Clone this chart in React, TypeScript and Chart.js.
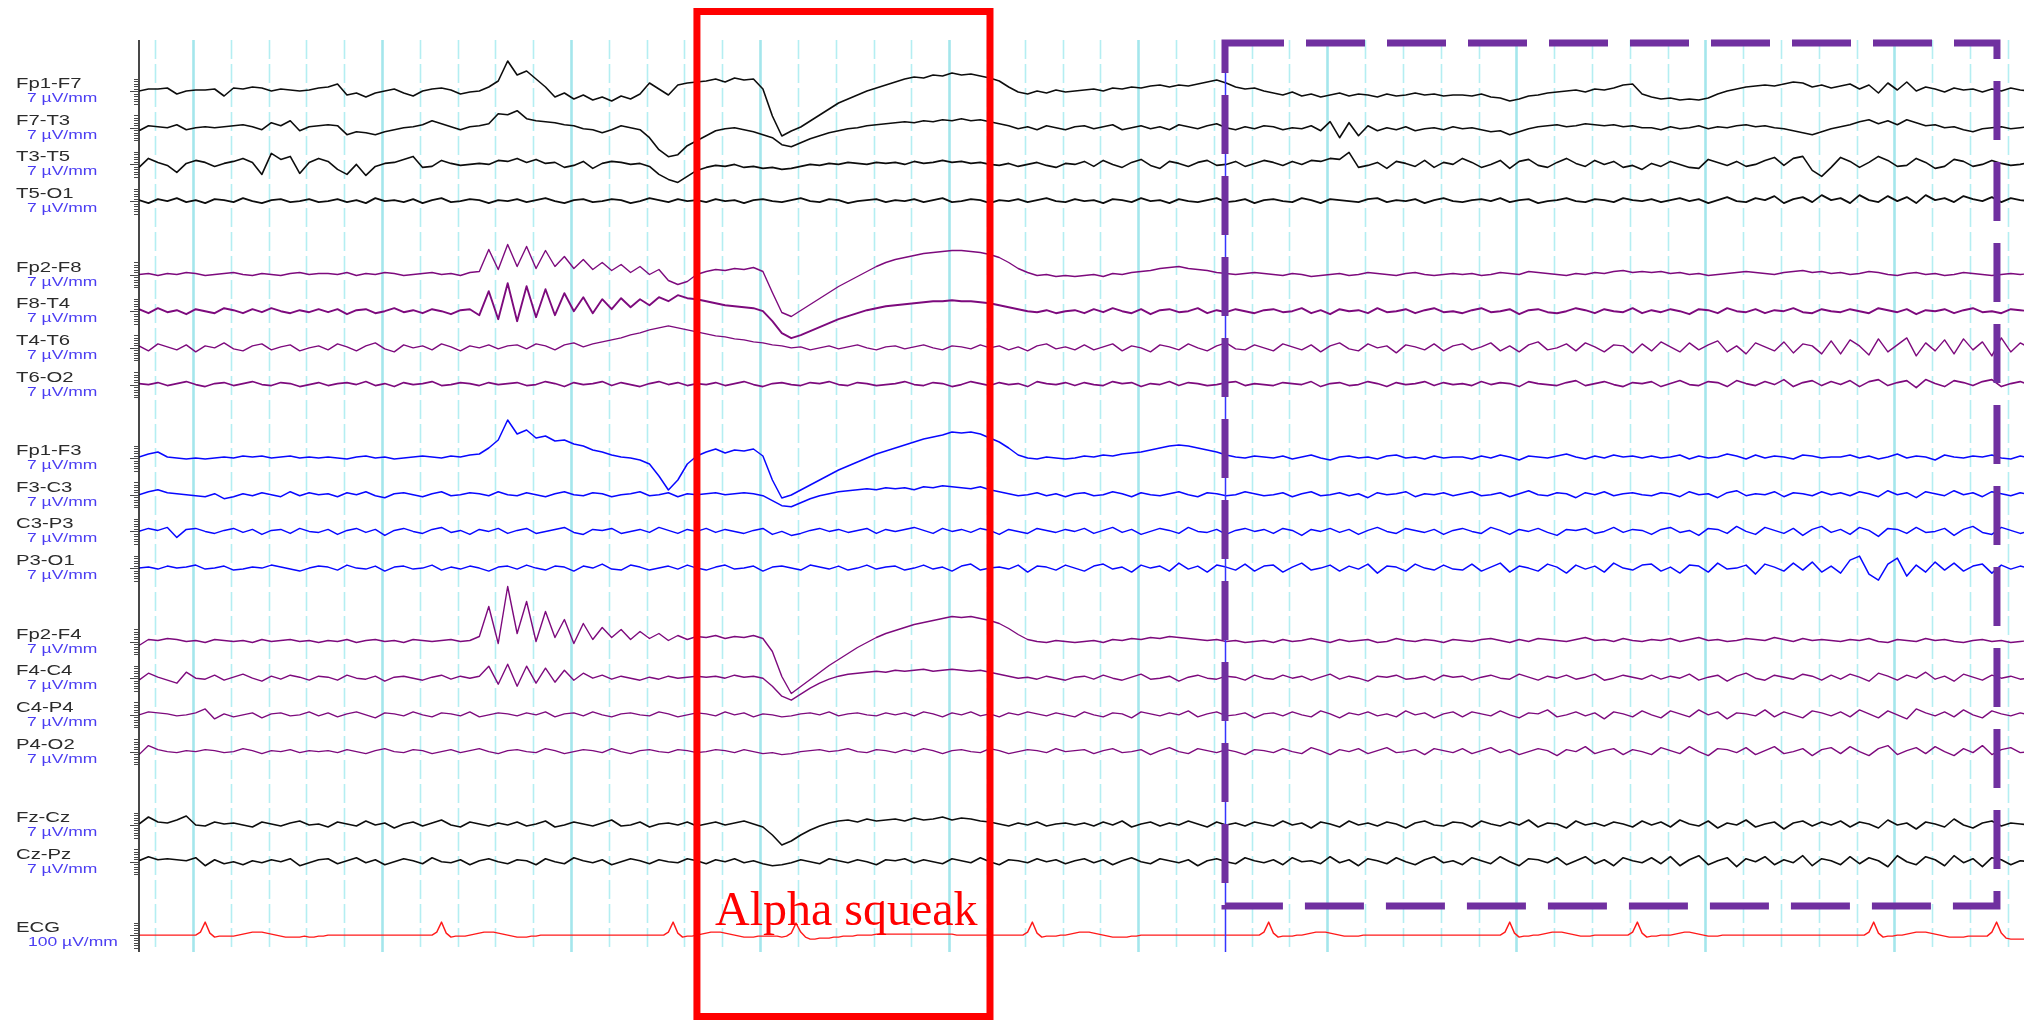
import React, { useEffect, useRef } from "react";
import { Chart, registerables } from "chart.js";

Chart.register(...registerables);

const WIDTH = 2031;
const HEIGHT = 1020;

// Time base of the montage (seconds) and sample spacing of the traces
const T_START = 0.715;
const T_END = 10.685;
const EEG_DT = 0.05;
const ECG_DT = 0.025;
const PAGE_JOIN = 6.46; // where the two pages meet

// Vertical layout: one slot per channel, empty slots between groups
const SLOT = 36.7;

const channelNames = [
  "Fp1-F7", "F7-T3", "T3-T5", "T5-O1",
  "Fp2-F8", "F8-T4", "T4-T6", "T6-O2",
  "Fp1-F3", "F3-C3", "C3-P3", "P3-O1",
  "Fp2-F4", "F4-C4", "C4-P4", "P4-O2",
  "Fz-Cz", "Cz-Pz", "ECG",
];
const sensitivities = [
  "7 µV/mm", "7 µV/mm", "7 µV/mm", "7 µV/mm",
  "7 µV/mm", "7 µV/mm", "7 µV/mm", "7 µV/mm",
  "7 µV/mm", "7 µV/mm", "7 µV/mm", "7 µV/mm",
  "7 µV/mm", "7 µV/mm", "7 µV/mm", "7 µV/mm",
  "7 µV/mm", "7 µV/mm", "100 µV/mm",
];
const channelSlots = [0, 1, 2, 3, 5, 6, 7, 8, 10, 11, 12, 13, 15, 16, 17, 18, 20, 21, 23];

// Trace deflections (display px, upward positive), one row per second
const fp1F7 = [
  0, 2, 2, 3, -3, 0, 1, 1, 2, -5, 3, 2, 4, 3, 0, 2, 1, 0, 1, 3,
  4, 7, -4, -2, -6, -2, 0, 2, -2, -5, 0, 2, 3, 1, -3, -1, 0, 4, 10, 30,
  16, 20, 12, 4, -6, -2, -8, -4, -9, -6, -10, -5, -8, -3, 8, 2, -4, 6, 8, 9,
  10, 12, 9, 13, 11, 12, 2, -25, -45, -40, -36, -30, -24, -18, -12, -8, -4, 0, 3, 6,
  9, 12, 14, 13, 16, 15, 18, 16, 17, 15, 13, 10, 4, -1, -3, 0, -2, 1, -1, 0,
  1, 2, 0, 3, 2, 4, 3, 5, 6, 4, 6, 5, 7, 9, 11, 8, 4, 2, 3, 0,
  -2, -4, -1, -5, -3, -6, -4, -2, -5, -3, -4, -6, -3, -5, -4, -2, -4, -3, -5, -4,
  -4, -5, -3, -6, -7, -10, -8, -5, -4, -2, -1, 0, 1, -1, 2, 1, 3, 6, 7, -3,
  -6, -8, -7, -9, -8, -9, -7, -3, 0, 2, 4, 5, 6, 5, 7, 9, 8, 4, 6, 3,
  5, 7, 2, 6, -2, 8, 1, 9, 0, 4, 2, -1, 3, 1, 2, -1, 2, 0, 3, 1, 0,
];
const f7T3 = [
  -3, 2, 1, 0, 3, -2, 0, 1, 0, 1, 2, 3, 1, -2, 5, 2, 7, -3, 1, 2,
  3, 2, -7, -4, -5, -7, -4, -2, 0, 1, 3, 7, 4, 1, -2, 1, 2, 4, 14, 13,
  17, 9, 7, 6, 5, 3, 2, -1, -2, -5, -2, 2, 0, -2, -10, -22, -29, -27, -18, -13,
  -8, -3, -1, 0, -2, -4, -7, -10, -17, -19, -15, -11, -8, -5, -3, -1, 0, 2, 3, 4,
  5, 6, 5, 7, 6, 8, 7, 9, 7, 8, 6, 4, 2, -1, 1, -2, 2, 0, -2, 1,
  2, -1, 1, 3, -2, 0, 2, -1, 1, -2, 3, 1, -1, 2, 4, 0, -2, 1, -1, 2,
  1, -2, 0, -1, 2, -3, 6, -10, 5, -8, 2, -3, 0, -2, 1, -3, -1, 0, -2, 1,
  -1, 0, -2, -4, -3, -7, -4, -1, 1, 2, 3, 1, 2, 4, 3, 2, 3, 1, 2, 0,
  0, -2, 1, -1, 0, 2, -1, 1, 0, 2, 3, 1, 2, 0, -1, -3, -5, -7, -4, -1,
  1, 3, 6, 8, 4, 7, 3, 8, 5, 2, 3, 0, 1, -2, -4, -1, 0, 1, -1, 0, 1,
];
const t3T5 = [
  -3, 6, 2, -1, -8, 1, 4, 2, -2, 1, 3, 6, 2, -10, 11, 5, 8, -9, 2, 6,
  3, -5, -10, 0, -11, -2, 1, 2, 5, 8, -3, -2, 4, 1, -1, 0, 1, 0, 4, 3,
  6, 2, 5, 1, 2, -3, -1, 3, -4, 1, 3, 2, 0, 1, -2, -10, -15, -18, -12, -6,
  -3, -1, -2, 0, -3, -2, -4, -3, -5, -4, -2, 0, -1, 1, 0, 2, 1, 0, 2, 1,
  2, 0, 3, 1, 2, 4, 2, 3, 1, 2, 0, -1, 1, -2, 0, 2, -1, -3, 1, 0,
  3, -2, 4, 0, -3, 2, 5, -1, -4, 3, 1, -2, 2, 4, -1, 0, 3, -2, 1, 4,
  2, -1, 3, 0, 4, 3, 6, 5, 12, -3, -1, 2, -4, 3, 1, -2, 4, -3, 2, 0,
  6, 2, -3, 0, 4, -4, 3, 5, -1, -3, 2, 6, 1, -2, 4, 0, 3, -3, -1, -5,
  1, -2, 3, 0, -3, -4, 5, 2, -1, 3, -2, 0, 4, 7, -1, 6, 8, -6, -12, -3,
  7, 3, -3, 2, 8, 4, -2, -1, 6, 2, -4, -2, 5, 3, -2, 0, 4, 1, -1, 0, 2,
];
const t5O1 = [
  1, -2, 2, 0, 3, -1, 1, -2, 2, 1, -1, 3, 0, -2, 1, 2, -1, 0, 2, -1,
  0, 2, -1, 1, -2, 3, 0, 1, -1, 2, -2, 1, 3, -1, 0, 2, 1, -2, 1, 0,
  2, -1, 1, 3, 0, -2, 1, 2, -1, 0, 2, 1, -2, 0, 3, 1, -1, 2, 0, 1,
  -1, 2, 0, 1, -2, 1, 2, 0, -1, 1, 3, 0, -1, 2, 1, -2, 0, 1, 2, -1,
  1, 0, 2, -1, 1, 3, -1, 0, 2, 1, -2, 1, 0, 2, -1, 1, 3, 0, -1, 2,
  0, 1, -2, 2, 1, -1, 3, 0, 1, -2, 2, 0, -1, 1, 3, -1, 0, 2, -2, 1,
  2, 0, -1, 3, 1, -2, 2, 1, 0, -1, 2, 3, -1, 1, 0, 2, -2, 1, 3, 0,
  -1, 1, 2, 0, 3, -1, 1, 2, -2, 0, 1, 3, 0, -1, 2, 1, -1, 3, 1, 0,
  2, -1, 1, 3, 0, 2, -2, 1, 4, 0, -1, 3, 1, 5, -2, 2, 4, -1, 6, 1,
  3, -2, 6, 1, -1, 5, 0, 4, -2, 6, 1, 3, -1, 5, 2, 0, 4, -1, 3, 1, 0,
];
const fp2F8 = [
  0, 1, -1, 1, 0, 2, 1, -1, 0, 1, 2, 0, -1, 1, 0, -1, 1, 2, 0, 1,
  1, 0, 2, -1, 1, 0, 2, 1, -1, 0, 1, 2, 0, 1, -1, 2, 3, 25, 5, 30,
  8, 28, 6, 24, 8, 18, 6, 15, 5, 12, 4, 10, 2, 8, 0, 5, -6, -10, -7, 0,
  3, 5, 4, 6, 5, 7, 3, -18, -38, -42, -36, -30, -24, -18, -12, -7, -2, 3, 8, 12,
  15, 17, 19, 21, 22, 23, 24, 24, 23, 22, 20, 17, 12, 6, 2, -1, 0, -2, -1, -2,
  -1, 0, -2, 1, 0, 2, 3, 4, 6, 7, 8, 6, 5, 4, 2, 1, 0, 1, 2, 1,
  0, -1, 1, 0, -2, -1, 0, 1, -1, 0, 2, 1, 0, -1, 1, 2, 0, -1, 0, 1,
  0, 1, -1, 0, 2, 1, 0, 3, 2, 1, 0, -1, 1, 0, 2, 1, 3, 4, 2, 3,
  2, 3, 1, 2, 0, 1, -1, 0, 1, 2, 3, 2, 1, 0, 2, 3, 4, 2, 3, 1,
  2, 0, 1, 3, 2, 0, -1, 1, 2, 0, 1, -1, 0, 2, 1, 0, -1, 0, 1, 0, 1,
];
const f8T4 = [
  2, -2, 3, -1, 1, -3, 2, 0, -2, 3, 1, -2, 2, -1, 3, 0, -2, 1, -1, 2,
  -1, 2, -3, 1, 2, -2, 0, 3, -1, 1, -2, 2, 0, -3, 1, 2, -4, 20, -8, 28,
  -10, 25, -6, 22, -4, 18, 0, 14, -2, 12, 2, 13, 4, 12, 6, 14, 10, 16, 13, 12,
  10, 8, 6, 5, 4, 3, 0, -10, -22, -27, -24, -20, -16, -12, -8, -5, -2, 1, 3, 5,
  6, 7, 8, 9, 10, 10, 11, 10, 10, 9, 8, 6, 4, 2, 0, -1, 1, -2, 0, 1,
  -2, 2, -1, 3, 0, -2, 2, -3, 1, 2, -1, 0, 3, -2, 1, -1, 2, 0, -2, 1,
  2, -1, 0, 3, -2, 1, -3, 2, 0, 1, -2, 3, -1, 0, 2, -2, 1, 3, -1, 0,
  -2, 1, 3, -1, 0, 2, -3, 1, 2, -1, -2, 0, 3, 1, -2, 2, 0, -1, 3, -2,
  1, -1, 2, 0, -3, 2, 1, -2, 3, 0, -1, 2, -2, 1, 0, 3, -1, -2, 2, 0,
  -1, 2, 0, -2, 3, 1, -1, 2, -3, 1, 0, 2, -2, 1, 3, -1, 0, -2, 2, 1, 0,
];
const t4T6 = [
  2, -3, 4, 1, -2, 3, -4, 2, 0, 5, -1, -3, 2, 4, -2, 1, 3, -3, 0, 2,
  -2, 4, 1, -3, 2, 5, -1, -4, 3, 0, 2, -2, 4, 1, -3, 2, 0, 3, -1, 2,
  3, -1, 4, 2, -2, 3, 5, 1, 4, 6, 8, 10, 13, 15, 18, 20, 22, 20, 18, 16,
  14, 12, 11, 9, 8, 6, 5, 3, 2, 0, 1, -2, 0, 2, -1, 1, 3, 0, -2, 1,
  2, -1, 1, 3, 0, -2, 2, 1, -1, 3, 0, 2, -2, 1, -3, 2, 4, -1, 1, -2,
  3, -2, 1, 4, -3, 2, 0, -4, 3, 1, -2, 4, 0, -3, 2, 5, -1, -2, 3, 0,
  -3, 4, 1, -2, 3, -4, 2, 5, -1, -3, 4, 0, 2, -5, 3, 1, -2, 4, -3, 2,
  4, -2, 1, 5, -3, 2, -4, 3, 6, -2, 0, 4, -3, 5, 1, -4, 3, 2, -5, 4,
  -3, 6, 1, -4, 5, -2, 3, 7, -4, 2, -6, 5, 1, -3, 6, -5, 4, 2, -6, 7,
  -6, 8, 2, -7, 9, -4, 3, 10, -8, 5, -3, 8, -6, 9, -2, 6, -8, 10, -4, 5, 0,
];
const t6O2 = [
  1, 0, 2, -1, 1, 3, 0, -2, 1, 2, -1, 1, 3, 0, -1, 2, 1, -2, 0, 2,
  -1, 1, 2, 0, 3, -1, 1, -2, 2, 0, 1, 3, -1, 0, 2, 1, -1, 2, 0, 1,
  2, -1, 0, 3, 1, -2, 2, 0, 1, 3, -1, 2, 0, -2, 1, 3, 0, 2, -1, 1,
  0, 2, -1, 1, 3, 0, -2, 1, 2, 0, -1, 2, 1, 3, 0, -1, 2, 1, -1, 0,
  1, 3, 0, -1, 2, 1, -2, 0, 3, 1, -1, 2, 0, 1, -2, 3, 1, 0, 2, -1,
  2, 0, -1, 3, 1, 2, -2, 1, 0, 3, -1, 2, 1, -1, 0, 2, 3, -1, 1, 0,
  -1, 2, 1, 0, 3, -2, 1, 2, -1, 0, 3, 1, -2, 2, 0, 1, 3, -1, 2, 0,
  1, -1, 3, 0, 2, 1, -2, 3, 1, 0, -1, 2, 4, -1, 1, 3, 0, -2, 2, 1,
  3, -2, 1, 4, 0, -1, 3, 2, -2, 4, 1, -1, 3, 0, 5, -2, 2, 4, -1, 3,
  0, 4, -2, 3, 5, -1, 2, 4, -3, 5, 1, -2, 4, 2, -1, 3, 5, -2, 1, 3, 0,
];
const fp1F3 = [
  1, 4, 6, 1, 0, -1, 0, -1, 0, 1, 0, 2, 1, 2, 0, 1, 2, 0, 1, 0,
  1, 0, -1, 1, 2, 0, 1, -1, 0, 1, 2, 1, 0, 2, 1, 3, 4, 10, 18, 38,
  24, 28, 20, 22, 17, 18, 14, 12, 8, 6, 3, 1, 0, -2, -6, -18, -32, -22, -6, 2,
  6, 9, 5, 8, 7, 9, 2, -22, -40, -37, -32, -27, -22, -17, -12, -8, -4, 0, 4, 7,
  10, 13, 16, 19, 21, 23, 26, 25, 26, 24, 20, 16, 10, 3, 0, -1, 1, 0, -1, 0,
  2, 1, 3, 2, 4, 5, 6, 8, 10, 12, 13, 12, 10, 8, 6, 3, 1, 0, 2, 1,
  0, 2, -1, 1, 3, 0, -2, 1, 2, 0, 1, -1, 2, 3, 0, 1, -1, 2, 0, 1,
  1, -1, 2, 0, 3, 1, -2, 2, 1, 0, 2, 4, 1, -1, 2, 0, 3, 1, 2, 0,
  2, 0, 1, 3, -1, 2, 0, 1, 4, 2, -1, 3, 0, 2, 1, -1, 3, 2, 0, 1,
  1, 3, 0, 2, -1, 1, 4, 0, 2, 1, -2, 3, 1, 0, 2, 1, 3, 0, -1, 2, 0,
];
const f3C3 = [
  0, 3, 5, 2, 1, 0, -1, -2, 1, -4, -2, 1, -1, 2, 0, -2, 3, -1, 2, 0,
  1, -2, 2, 0, 3, -1, -3, 1, 2, 0, -2, 1, 3, -1, 0, 2, 1, -1, 3, 0,
  -1, 2, 0, -2, 1, 3, 0, -1, 2, 1, -2, 0, 1, 3, -1, 0, 2, -2, 1, 0,
  1, 2, 0, 1, 2, 1, -1, -6, -11, -12, -8, -4, -1, 1, 3, 4, 5, 6, 5, 7,
  6, 7, 5, 8, 7, 9, 8, 7, 6, 8, 5, 3, 1, -1, 0, 2, -1, 1, -2, 1,
  2, -1, 0, 3, 1, -2, 2, 0, -1, 1, 3, 0, -2, 2, 1, -1, 0, 3, 1, -1,
  0, 2, -2, 1, 3, -1, 0, 2, -1, 1, -3, 2, 0, 1, 3, -2, 1, 0, 2, -1,
  1, 3, -1, 0, 2, -2, 1, 4, 0, -1, 2, 1, -3, 2, 0, 3, -1, 1, 2, 0,
  -1, 2, 1, -2, 3, 0, 1, -3, 2, 4, -1, 1, 0, 3, -2, 2, 1, -1, 3, 0,
  2, -1, 3, 1, -2, 4, 0, 2, -3, 3, 1, -1, 4, 0, 2, -2, 3, 1, -1, 2, 0,
];
const c3P3 = [
  0, 3, 1, 4, -6, 2, 3, 0, -2, 1, 3, -1, 2, -3, 1, 2, -2, 3, 0, -1,
  2, -3, 1, 3, -1, 2, -4, 1, 3, 0, -2, 2, 4, -1, 1, -3, 2, 0, 3, -2,
  1, 3, -2, 0, 2, 4, -1, -3, 2, 1, 3, -2, 0, 2, -1, 4, 1, -2, 2, 0,
  3, -1, 2, 0, -2, 1, 3, -3, 0, -4, -2, 1, 3, 0, 2, -1, 1, 3, -2, 2,
  0, 2, 4, 1, -2, 3, 0, 2, -1, 3, 1, -3, 2, 0, -2, 3, 1, -1, 2, 0,
  3, -2, 1, 4, -1, 2, -3, 0, 3, 1, -2, 4, 0, -1, 2, -3, 1, 3, 0, 2,
  -2, 3, 1, -4, 2, 0, 3, -1, 2, -3, 1, 4, 0, -2, 3, 1, -1, 2, -3, 1,
  3, 0, -2, 4, 1, -3, 2, 0, 3, -1, -4, 2, 1, 3, -2, 0, 4, -1, 2, 1,
  -3, 2, 4, -1, 1, -4, 3, 2, -2, 5, 0, -3, 4, 1, -2, 3, -4, 2, 5, -1,
  2, -3, 4, 1, -5, 3, 2, -2, 4, -1, 0, 3, -4, 2, 5, -1, -3, 4, 1, -2, 0,
];
const p3O1 = [
  0, 1, -1, 2, 0, 1, 3, -1, 0, 2, -2, -1, 1, 0, 3, 1, -1, -3, 0, 2,
  1, -2, 3, 0, -1, 2, -3, 1, 2, -1, 0, 3, -2, 1, -1, 2, 0, -3, 1, 2,
  -1, 3, 0, -2, 2, 1, -3, 2, 0, 4, -1, -2, 3, 1, -2, 0, 2, -1, 3, 0,
  -2, 1, 3, -1, 0, 2, -3, 1, 2, 0, -2, 3, 1, -1, 2, -2, 0, 3, -1, 1,
  2, -2, 0, 3, -1, 1, -3, 2, 4, -2, 0, 1, -1, 3, -4, 2, 1, -2, 3, 0,
  -3, 2, 4, -1, 1, -4, 3, 0, 2, -3, 5, -1, 2, -4, 3, 1, -2, 4, -3, 2,
  3, -4, 1, 5, -2, 0, 3, -3, 2, -1, 4, -5, 2, 1, -3, 4, 0, -2, 3, -1,
  -2, 4, -3, 1, 5, -4, 2, 0, -3, 4, 1, -5, 3, -1, 2, -4, 5, 0, -2, 3,
  4, -3, 1, -5, 3, 2, -4, 5, -1, 0, 3, -6, 4, 1, -3, 5, -2, 6, -4, 2,
  -5, 8, 12, -6, -12, 4, 10, -8, 3, -4, 6, -2, 5, -3, 2, 4, -5, 3, -1, 2, 0,
];
const fp2F4 = [
  -4, 2, 1, 3, 2, 0, 1, -1, 2, 1, 0, 1, -1, 2, 0, 1, 2, 0, 1, -1,
  1, 0, 2, -1, 1, 2, 0, 1, -1, 2, 1, 0, 1, 2, 0, 1, 5, 35, -2, 55,
  8, 40, 0, 30, 4, 22, -2, 18, 2, 14, 4, 12, 2, 10, 3, 8, 1, 6, 2, 5,
  4, 6, 3, 5, 4, 6, 3, -10, -35, -52, -45, -38, -31, -24, -18, -12, -6, -1, 4, 8,
  11, 14, 17, 19, 21, 23, 25, 24, 25, 23, 21, 18, 13, 7, 2, 0, -1, 1, 0, -1,
  0, 1, -1, 2, 1, 3, 2, 4, 3, 5, 4, 3, 2, 1, 2, 0, 1, -1, 0, 1,
  -1, 2, 0, 1, 3, 1, -1, 2, 0, 1, 2, -1, 0, 3, 1, 0, 2, 1, -1, 2,
  1, 0, 2, 3, 1, -1, 2, 0, 3, 2, 1, 0, 2, 4, 1, 2, 0, 3, 1, 0,
  2, 1, 3, 0, 2, 4, 1, 2, 0, 1, 3, 2, 1, 4, 2, 0, 3, 1, 2, 1,
  0, 2, 1, 3, 0, -1, 2, 1, 0, 3, 1, 2, 0, -1, 1, 2, 0, 1, -1, 0, 1,
];
const f4C4 = [
  -2, 5, 1, -2, -5, 6, 0, -1, 3, -2, 1, 4, 0, -3, 2, -1, 3, 1, -2, 2,
  1, -2, 3, 0, -1, 2, -3, 1, 2, 0, -2, 1, 3, -1, 2, 0, 2, 12, -6, 14,
  -8, 12, -5, 10, -4, 8, -2, 5, 0, 3, -1, 2, 0, -2, 1, -1, 2, 0, 1, 2,
  1, 2, 0, 3, 1, 2, 0, -8, -18, -22, -16, -10, -5, -1, 2, 4, 5, 6, 7, 6,
  8, 7, 8, 9, 7, 8, 9, 8, 7, 8, 6, 4, 2, 0, 1, -1, 2, 0, -2, 1,
  2, -1, 3, 0, -2, 1, 4, -1, 0, 2, -3, 1, 3, 0, -1, 2, 1, -2, 3, 0,
  -1, 3, 0, 2, -2, 1, 4, -1, 2, 0, -3, 2, 1, 3, -1, 0, 2, -2, 3, 1,
  2, -2, 1, 3, 0, -1, 4, 1, -2, 2, 0, 3, -1, 1, 4, -2, 0, 3, 1, -1,
  3, -1, 2, 0, 4, -2, 1, 3, -3, 2, 5, 0, -2, 3, 1, -1, 4, 2, -2, 3,
  -1, 4, 1, -3, 5, 2, -2, 3, 0, 6, -1, 2, -3, 4, 1, -2, 3, 0, 2, -1, 0,
];
const c4P4 = [
  0, 3, 2, 1, -1, 0, 2, 6, -4, 1, -2, 0, 2, -3, 1, 2, -1, 0, 3, -1,
  2, -2, 1, 3, 0, -3, 2, 1, -1, 3, 0, -2, 2, 1, -1, 3, -2, 0, 2, 1,
  -1, 2, 0, 3, -2, 1, 2, -1, 3, 0, -2, 1, 2, 0, -1, 3, 1, -2, 0, 2,
  1, -1, 3, 0, 2, -2, 1, 0, -2, -1, 1, 2, 0, 3, -1, 1, 2, 0, -1, 2,
  0, 2, -1, 3, 1, -2, 2, 0, 3, -1, 1, -2, 2, 0, 3, 1, -1, 2, 0, -2,
  3, 0, -2, 2, 1, -3, 3, 1, -1, 2, 0, 4, -2, 1, 3, -1, 0, 2, -3, 1,
  2, -1, 3, 0, -2, 4, 1, -3, 2, 0, 3, -1, 1, -2, 4, 0, 2, -3, 1, 3,
  -2, 3, 1, -1, 4, 0, -3, 2, 1, 5, -2, 0, 3, -1, 2, -4, 3, 1, -2, 4,
  0, -3, 4, 1, -2, 5, 0, 3, -4, 2, 1, -1, 5, -2, 3, 0, -3, 4, 2, -1,
  3, -2, 5, 1, -3, 4, 0, -4, 6, 2, -1, 3, -2, 5, 0, -3, 4, 1, -1, 2, 0,
];
const p4O2 = [
  -3, 6, 2, 0, -1, 1, 0, 2, 1, -1, 0, 3, 1, -2, 1, 0, 2, -1, 1, 0,
  1, -1, 2, 0, -2, 1, 3, 0, -1, 2, 1, -2, 0, 2, -1, 1, 3, 0, -2, 1,
  2, 0, -1, 3, 1, -2, 0, 2, 1, -1, 3, 0, -2, 1, 2, 0, -1, 2, 1, -1,
  0, 2, 1, -1, 2, 0, -2, -1, -3, -2, 0, 1, 2, 0, 1, 3, 0, -1, 2, 1,
  -1, 2, 0, 3, 1, -2, 1, 2, 0, -1, 3, 1, -2, 0, 2, 1, -1, 3, 0, 1,
  2, -2, 1, 3, -1, 0, 2, -3, 1, 4, 0, -2, 3, 1, -1, 2, 0, -3, 2, 1,
  -1, 3, 0, -2, 4, 1, -3, 2, 0, 3, -2, 1, 4, -1, 0, 2, -3, 3, 1, -1,
  3, -2, 1, 4, -1, 2, -3, 0, 3, 1, -4, 2, 0, 5, -2, 1, 3, -3, 2, 0,
  -3, 4, 1, -2, 5, 0, -4, 3, 2, -1, 4, -3, 1, 5, -2, 0, 3, -4, 2, 4,
  -2, 5, 0, -4, 3, 6, -3, 1, 4, -2, 5, 0, -4, 3, -1, 6, -3, 2, 4, -1, 0,
];
const fzCz = [
  1, 8, 3, 2, 5, 9, 0, -1, 3, 1, 2, 0, -2, 3, 1, -1, 2, 4, 0, 1,
  -2, 3, 1, -1, 4, 0, 2, -3, 1, 3, -1, 2, 5, 0, -2, 3, 1, -1, 2, 0,
  3, -1, 1, 4, -2, 0, 3, 1, -1, 2, 5, -1, 0, 3, -2, 1, 2, 0, 3, -1,
  1, 3, 0, 2, 4, 1, -2, -10, -20, -16, -10, -5, -1, 2, 4, 5, 3, 6, 4, 5,
  6, 4, 7, 5, 6, 8, 5, 7, 6, 4, 3, 1, -1, 2, 0, 3, -1, 1, 2, 0,
  2, -1, 3, 0, 4, -2, 1, 3, -1, 2, 0, 4, 1, -2, 3, 0, 2, -1, 3, 1,
  -1, 4, 0, 2, -3, 3, 1, -2, 4, 0, 2, -1, 3, 1, -3, 2, 4, 0, -1, 3,
  2, -2, 4, 1, -1, 3, 0, 5, -2, 2, 1, -3, 4, 0, 2, -1, 3, 1, -2, 4,
  0, 3, -2, 5, 1, -1, 4, -3, 2, 0, 5, -2, 1, 3, -4, 2, 4, -1, 3, 0,
  4, -2, 3, 1, -3, 5, 0, 2, -4, 3, 1, -2, 6, 0, -3, 2, 4, -1, 2, 1, 0,
];
const czPz = [
  1, 5, 2, 3, 2, 1, 4, -4, 2, -2, 0, -3, 1, -1, 2, 0, 3, -4, -1, 2,
  3, -2, 1, 4, -1, 2, -3, 0, 3, 1, -2, 4, 0, -1, 2, -3, 1, 3, 0, -2,
  2, 1, -3, 3, 0, -2, 4, 1, -1, 2, -3, 0, 3, 1, -2, 2, 0, -1, 3, 1,
  -2, 2, 0, 3, -1, 1, -2, -4, -3, -1, 2, 0, -2, 3, 1, -1, 2, 0, -3, 2,
  1, 3, -1, 2, 0, -2, 3, 1, -1, 4, 0, -3, 2, 1, -1, 3, 0, 2, -2, 1,
  3, -1, 2, -3, 1, 4, 0, -2, 3, 1, -1, 2, -4, 1, 3, 0, -2, 4, 1, -1,
  2, -3, 4, 0, 1, -2, 5, -1, 2, -4, 3, 1, -2, 4, 0, -3, 2, 5, -1, 1,
  -3, 4, 1, -2, 5, 0, -4, 3, 2, -1, 4, -3, 1, 5, -2, 2, -4, 4, 1, -1,
  4, -2, 5, -4, 2, 6, -3, 1, 4, -5, 3, 0, 5, -3, 2, -1, 6, -4, 3, 1,
  -3, 5, -2, 4, 1, -5, 6, 0, -3, 5, 2, -4, 6, -1, 3, -5, 4, 2, -3, 1, 0,
];
// ECG, sampled twice as densely, one row per half second
const ecg = [
  0, 0, 0, 0, 0, 0, 0, 0, 0, 0, 0, 0, 0, 3, 13, 2, -2, -1, -1, -1,
  -1, 0, 1, 2, 3, 3, 3, 2, 1, 0, -1, -2, -2, -2, -2, -1, -2, -2, -1, -1,
  0, 0, 0, 0, 0, 0, 0, 0, 0, 0, 0, 0, 0, 0, 0, 0, 0, 0, 0, 0,
  0, 0, 0, 3, 13, 2, -2, -1, -1, -1, 0, 1, 2, 3, 3, 3, 2, 1, 0, -1,
  -2, -2, -2, -1, -1, 0, 0, 0, 0, 0, 0, 0, 0, 0, 0, 0, 0, 0, 0, 0,
  0, 0, 0, 0, 0, 0, 0, 0, 0, 0, 0, 0, 3, 13, 2, -2, -1, -1, 0, 1,
  2, 3, 3, 3, 2, 1, 0, -1, -2, -2, -2, -1, -1, -1, -1, -1, -2, -1, 2, 12,
  3, -2, -4, -4, -3, -3, -3, -2, -2, -1, -1, -1, 0, 0, 0, 0, 1, 1, 1, 1,
  1, 1, 1, 1, 1, 1, 1, 1, 1, 1, 1, 1, 1, 0, 0, 0, 0, 0, 0, 0,
  0, 0, 0, 0, 0, 0, 0, 0, 3, 13, 2, -2, -1, -1, -1, 0, 0, 1, 2, 3,
  3, 3, 2, 1, 0, -1, -2, -2, -2, -2, -1, -1, 0, 0, 0, 0, 0, 0, 0, 0,
  0, 0, 0, 0, 0, 0, 0, 0, 0, 0, 0, 0, 0, 0, 0, 0, 0, 0, 3, 13,
  2, -2, -1, -1, -1, 0, 0, 1, 2, 3, 3, 3, 2, 1, 0, -1, -1, -1, -1, 0,
  0, 0, 0, 0, 0, 0, 0, 0, 0, 0, 0, 0, 0, 0, 0, 0, 0, 0, 0, 0,
  0, 0, 0, 0, 0, 0, 0, 0, 0, 3, 13, 2, -2, -1, -1, 0, 0, 1, 2, 3,
  3, 3, 2, 1, 0, -1, -1, -1, 0, 0, 0, 0, 0, 0, 0, 0, 3, 13, 2, -2,
  -1, -1, 0, 0, 0, 1, 2, 3, 3, 2, 1, 0, -1, -1, -1, 0, 0, 0, 0, 0,
  0, 0, 0, 0, 0, 0, 0, 0, 0, 0, 0, 0, 0, 0, 0, 0, 0, 0, 0, 0,
  0, 0, 0, 0, 0, 0, 3, 13, 2, -2, -1, -1, 0, 0, 1, 2, 3, 3, 3, 2,
  1, 0, -1, -2, -2, -2, -2, -1, -1, -1, -1, -1, 3, 13, 2, -3, -4, -4, -4, -4,
  -4,
];

const traces = [
  fp1F7, f7T3, t3T5, t5O1,
  fp2F8, f8T4, t4T6, t6O2,
  fp1F3, f3C3, c3P3, p3O1,
  fp2F4, f4C4, c4P4, p4O2,
  fzCz, czPz, ecg,
];

// Styling
const BLACK = "#0d0d0d";
const PURPLE = "#7d0a7d";
const BLUE = "#0808ff";
const RED = "#ff1a1a";
const traceColors = [
  BLACK, BLACK, BLACK, BLACK,
  PURPLE, PURPLE, PURPLE, PURPLE,
  BLUE, BLUE, BLUE, BLUE,
  PURPLE, PURPLE, PURPLE, PURPLE,
  BLACK, BLACK, RED,
];
const traceWidths = [
  1.6, 1.6, 1.6, 1.8,
  1.4, 1.9, 1.4, 1.6,
  1.5, 1.5, 1.5, 1.5,
  1.4, 1.4, 1.4, 1.4,
  1.6, 1.6, 1.4,
];

// Screen text in this montage is drawn stretched horizontally
const TEXT_STRETCH = 1.4;

function stretchedText(ctx: CanvasRenderingContext2D, text: string, x: number, y: number) {
  ctx.save();
  ctx.translate(x, y);
  ctx.scale(TEXT_STRETCH, 1);
  ctx.fillText(text, 0, 0);
  ctx.restore();
}

const montagePlugin = {
  id: "montageDecor",
  beforeDraw(chart: any) {
    const ctx = chart.ctx as CanvasRenderingContext2D;
    ctx.save();
    ctx.fillStyle = "#ffffff";
    ctx.fillRect(0, 0, chart.width, chart.height);
    ctx.restore();
  },
  beforeDatasetsDraw(chart: any) {
    const ctx = chart.ctx as CanvasRenderingContext2D;
    const xs = chart.scales.x;
    const { top, bottom } = chart.chartArea;
    ctx.save();
    // 0.2 s grid, solid on whole seconds
    for (let k = 0; k < 50; k++) {
      const t = 0.8 + 0.2 * k;
      const px = Math.round(xs.getPixelForValue(t)) + 0.5;
      const whole = k % 5 === 1;
      ctx.beginPath();
      ctx.strokeStyle = whole ? "#a4e6ec" : "#b4eef2";
      ctx.lineWidth = whole ? 2.6 : 1.6;
      ctx.setLineDash(whole ? [] : [19, 5]);
      ctx.moveTo(px, top);
      ctx.lineTo(px, bottom);
      ctx.stroke();
    }
    ctx.restore();
  },
  afterDatasetsDraw(chart: any) {
    const ctx = chart.ctx as CanvasRenderingContext2D;
    const xs = chart.scales.x;
    const ys = chart.scales.y;
    const { left, top, bottom } = chart.chartArea;

    ctx.save();
    // page boundary marker
    const joinX = Math.round(xs.getPixelForValue(PAGE_JOIN)) + 0.5;
    ctx.strokeStyle = "#3535ff";
    ctx.lineWidth = 1.5;
    ctx.beginPath();
    ctx.moveTo(joinX, top);
    ctx.lineTo(joinX, bottom);
    ctx.stroke();

    // left axis
    ctx.strokeStyle = "#1a1a1a";
    ctx.lineWidth = 1.6;
    ctx.beginPath();
    ctx.moveTo(left, top);
    ctx.lineTo(left, bottom);
    ctx.stroke();

    // per-channel amplitude ticks and labels
    channelNames.forEach((name, ci) => {
      const base = ys.getPixelForValue(channelSlots[ci] * SLOT);
      ctx.strokeStyle = "#4a4a4a";
      ctx.lineWidth = 1;
      for (let k = -5; k <= 5; k++) {
        const y = Math.round(base + k * 2.5) + 0.5;
        const len = k === 0 ? 9 : 5;
        ctx.beginPath();
        ctx.moveTo(left - len, y);
        ctx.lineTo(left, y);
        ctx.stroke();
      }
      ctx.textBaseline = "alphabetic";
      ctx.textAlign = "left";
      ctx.fillStyle = "#2b2b2b";
      ctx.font = '14.5px "Liberation Sans", Arial, sans-serif';
      stretchedText(ctx, name, 16, base - 3);
      ctx.fillStyle = "#4b3df2";
      ctx.font = '12.5px "Liberation Sans", Arial, sans-serif';
      stretchedText(ctx, sensitivities[ci], name === "ECG" ? 28 : 27, base + 11);
    });

    // annotation boxes
    ctx.setLineDash([59, 22]);
    ctx.strokeStyle = "#7030a0";
    ctx.lineWidth = 7;
    const pL = xs.getPixelForValue(6.459);
    const pR = xs.getPixelForValue(10.542);
    ctx.strokeRect(pL, 43, pR - pL, 906 - 43);
    ctx.setLineDash([]);

    ctx.strokeStyle = "#ff0000";
    ctx.lineWidth = 7;
    const rL = xs.getPixelForValue(3.666);
    const rR = xs.getPixelForValue(5.216);
    ctx.strokeRect(rL, 11.5, rR - rL, 1016.5 - 11.5);

    ctx.fillStyle = "#ff0000";
    ctx.font = '48px "Liberation Serif", "Times New Roman", serif';
    ctx.textBaseline = "alphabetic";
    ctx.fillText("Alpha squeak", 715, 925);
    ctx.restore();
  },
};

export default function App() {
  const canvasRef = useRef<HTMLCanvasElement>(null);

  useEffect(() => {
    const canvas = canvasRef.current;
    if (!canvas) return;

    const datasets = traces.map((values, ci) => {
      const dt = ci === traces.length - 1 ? ECG_DT : EEG_DT;
      const base = channelSlots[ci] * SLOT;
      return {
        label: channelNames[ci],
        data: values.map((v, i) => ({ x: T_START + i * dt, y: base - v })),
        borderColor: traceColors[ci],
        borderWidth: traceWidths[ci],
        pointRadius: 0,
        tension: 0,
        fill: false,
        borderJoinStyle: "round" as const,
      };
    });

    const chart = new Chart(canvas, {
      type: "line",
      data: { datasets },
      options: {
        responsive: false,
        animation: false,
        devicePixelRatio: 1,
        events: [],
        layout: { padding: { left: 139, right: WIDTH - 2024, top: 40, bottom: HEIGHT - 952 } },
        plugins: { legend: { display: false }, tooltip: { enabled: false } },
        scales: {
          x: { type: "linear", min: T_START, max: T_END, display: false },
          y: { type: "linear", min: -51, max: 861, reverse: true, display: false },
        },
      },
      plugins: [montagePlugin],
    });

    return () => chart.destroy();
  }, []);

  return (
    <div style={{ position: "absolute", left: 0, top: 0, width: WIDTH, height: HEIGHT, background: "#fff" }}>
      <canvas ref={canvasRef} width={WIDTH} height={HEIGHT} style={{ display: "block" }} />
    </div>
  );
}
